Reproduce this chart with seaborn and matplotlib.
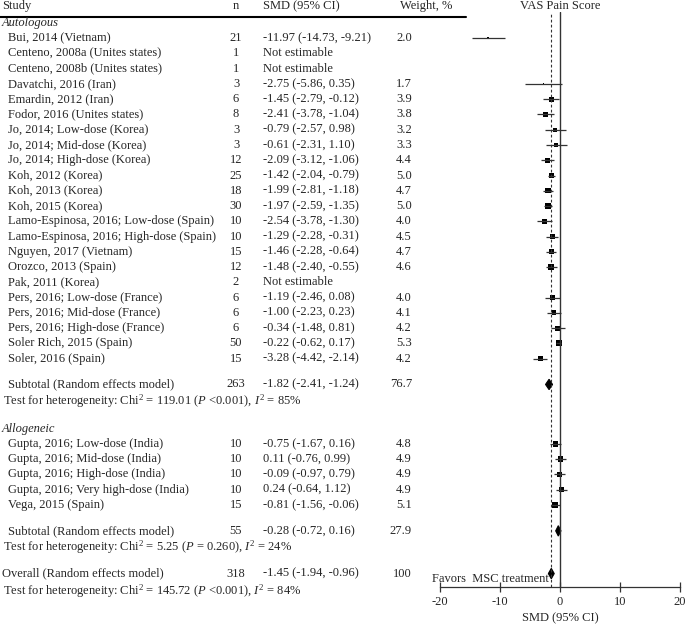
import numpy as np
import matplotlib
matplotlib.use("Agg")
import matplotlib.pyplot as plt
import matplotlib.transforms as mtransforms
import seaborn as sns

# autologous studies
auto_studies = [
    "Bui, 2014 (Vietnam)", "Centeno, 2008a (Unites states)", "Centeno, 2008b (Unites states)",
    "Davatchi, 2016 (Iran)", "Emardin, 2012 (Iran)", "Fodor, 2016 (Unites states)",
    "Jo, 2014; Low-dose (Korea)", "Jo, 2014; Mid-dose (Korea)", "Jo, 2014; High-dose (Korea)",
    "Koh, 2012 (Korea)", "Koh, 2013 (Korea)", "Koh, 2015 (Korea)",
    "Lamo-Espinosa, 2016; Low-dose (Spain)", "Lamo-Espinosa, 2016; High-dose (Spain)",
    "Nguyen, 2017 (Vietnam)", "Orozco, 2013 (Spain)", "Pak, 2011 (Korea)",
    "Pers, 2016; Low-dose (France)", "Pers, 2016; Mid-dose (France)", "Pers, 2016; High-dose (France)",
    "Soler Rich, 2015 (Spain)", "Soler, 2016 (Spain)",
]
auto_n = [21, 1, 1, 3, 6, 8, 3, 3, 12, 25, 18, 30, 10, 10, 15, 12, 2, 6, 6, 6, 50, 15]
auto_smd = [-11.97, np.nan, np.nan, -2.75, -1.45, -2.41, -0.79, -0.61, -2.09, -1.42, -1.99,
            -1.97, -2.54, -1.29, -1.46, -1.48, np.nan, -1.19, -1.00, -0.34, -0.22, -3.28]
auto_lo = [-14.73, np.nan, np.nan, -5.86, -2.79, -3.78, -2.57, -2.31, -3.12, -2.04, -2.81,
           -2.59, -3.78, -2.28, -2.28, -2.40, np.nan, -2.46, -2.23, -1.48, -0.62, -4.42]
auto_hi = [-9.21, np.nan, np.nan, 0.35, -0.12, -1.04, 0.98, 1.10, -1.06, -0.79, -1.18,
           -1.35, -1.30, -0.31, -0.64, -0.55, np.nan, 0.08, 0.23, 0.81, 0.17, -2.14]
auto_w = [2.0, np.nan, np.nan, 1.7, 3.9, 3.8, 3.2, 3.3, 4.4, 5.0, 4.7, 5.0, 4.0, 4.5,
          4.7, 4.6, np.nan, 4.0, 4.1, 4.2, 5.3, 4.2]

# allogeneic studies
allo_studies = [
    "Gupta, 2016; Low-dose (India)", "Gupta, 2016; Mid-dose (India)",
    "Gupta, 2016; High-dose (India)", "Gupta, 2016; Very high-dose (India)", "Vega, 2015 (Spain)",
]
allo_n = [10, 10, 10, 10, 15]
allo_smd = [-0.75, 0.11, -0.09, 0.24, -0.81]
allo_lo = [-1.67, -0.76, -0.97, -0.64, -1.56]
allo_hi = [0.16, 0.99, 0.79, 1.12, -0.06]
allo_w = [4.8, 4.9, 4.9, 4.9, 5.1]

# pooled estimates: autologous subtotal, allogeneic subtotal, overall
pooled_labels = ["Subtotal (Random effects model)", "Subtotal (Random effects model)",
                 "Overall (Random effects model)"]
pooled_n = [263, 55, 318]
pooled_smd = [-1.82, -0.28, -1.45]
pooled_lo = [-2.41, -0.72, -1.94]
pooled_hi = [-1.24, 0.16, -0.96]
pooled_w = ["76.7", "27.9", "100"]
het_text = [
    r"Test for heterogeneity: Chi$^2$ = 119.01 ($P$ <0.001), $I^2$ = 85%",
    r"Test for heterogeneity: Chi$^2$ = 5.25 ($P$ = 0.260), $I^2$ = 24%",
    r"Test for heterogeneity: Chi$^2$ = 145.72 ($P$ <0.001), $I^2$ = 84%",
]

sns.set_theme(style="white")
plt.rcParams["font.family"] = ["Liberation Serif", "DejaVu Serif"]
plt.rcParams["mathtext.fontset"] = "custom"
plt.rcParams["mathtext.rm"] = "Liberation Serif"
plt.rcParams["mathtext.it"] = "Liberation Serif:italic"
plt.rcParams["axes.unicode_minus"] = False
FS = 9.0

W, H = 685, 625
fig = plt.figure(figsize=(W / 100, H / 100), dpi=100)
ax = fig.add_axes([440 / W, 1 - 587 / H, 240 / W, 575 / H])

# row layout (in row units)
auto_rows = np.arange(1, len(auto_studies) + 1)
allo_rows = 27.6 + np.arange(len(allo_studies))
pooled_rows = [23.7, 33.3, 36.1]
het_rows = [24.8, 34.4, 37.25]

tr = mtransforms.blended_transform_factory(fig.transFigure, ax.transData)


def txt(xpx, y, s, **kw):
    ax.text(xpx / W, y, s, transform=tr, va="center", fontsize=FS, clip_on=False, **kw)


# header
hy = -1.1
txt(2, hy, "Study")
txt(236, hy, "n", ha="center")
txt(263, hy, "SMD (95% CI)")
txt(400, hy, "Weight, %")
ax.plot([0, 466 / W], [-0.38, -0.38], transform=tr, color="black", lw=1.5, clip_on=False)
ax.text(0, hy, "VAS Pain Score", ha="center", va="center", fontsize=FS)

txt(2, 0, "Autologous", style="italic")
txt(2, 26.6, "Allogeneic", style="italic")


def study_block(names, ns, smd, lo, hi, w, rows):
    for name, n, m, l, h, wt, r in zip(names, ns, smd, lo, hi, w, rows):
        txt(8, r, name)
        txt(236, r, str(n), ha="center")
        if np.isnan(m):
            txt(263, r, "Not estimable")
        else:
            txt(263, r, f"{m:.2f} ({l:.2f}, {h:.2f})")
            txt(412, r, f"{wt:.1f}", ha="right")
    ax.hlines(rows, lo, hi, color="#333333", lw=0.9)
    sns.scatterplot(x=smd, y=rows, size=w, sizes=(1.5, 18), size_norm=(1.7, 5.3),
                    marker="s", color="black", linewidth=0, legend=False, ax=ax)


study_block(auto_studies, auto_n, auto_smd, auto_lo, auto_hi, auto_w, auto_rows)
study_block(allo_studies, allo_n, allo_smd, allo_lo, allo_hi, allo_w, allo_rows)

for lab, n, m, l, h, wt, r, ht, hr in zip(pooled_labels, pooled_n, pooled_smd, pooled_lo,
                                          pooled_hi, pooled_w, pooled_rows, het_text, het_rows):
    txt(8 if lab.startswith("Sub") else 2, r, lab)
    txt(236, r, str(n), ha="center")
    txt(263, r, f"{m:.2f} ({l:.2f}, {h:.2f})")
    txt(412, r, wt, ha="right")
    txt(3, hr, ht)
    ax.fill([l, m, h, m], [r, r - 0.34, r, r + 0.34], color="black", lw=0.8)

ax.axvline(0, color="#333333", lw=1.0)
ax.axvline(pooled_smd[2], color="#333333", lw=0.8, ls=(0, (2.5, 2)))
ax.text(-21.4, 36.45, "Favors  MSC treatment", fontsize=FS, va="center", clip_on=False)

ax.set_xlim(-20, 20)
ax.set_ylim(36.98, -0.72)
ax.set_xticks([-20, -10, 0, 10, 20])
ax.set_yticks([])
for s in ["top", "left", "right"]:
    ax.spines[s].set_visible(False)
ax.spines["bottom"].set_color("#333333")
ax.spines["bottom"].set_linewidth(0.9)
ax.tick_params(axis="x", bottom=True, direction="inout", length=7, width=0.9,
               color="#333333", labelsize=FS, pad=3)
ax.set_xlabel("SMD (95% CI)", fontsize=FS, labelpad=3)

fig.savefig("out.png", dpi=100)
